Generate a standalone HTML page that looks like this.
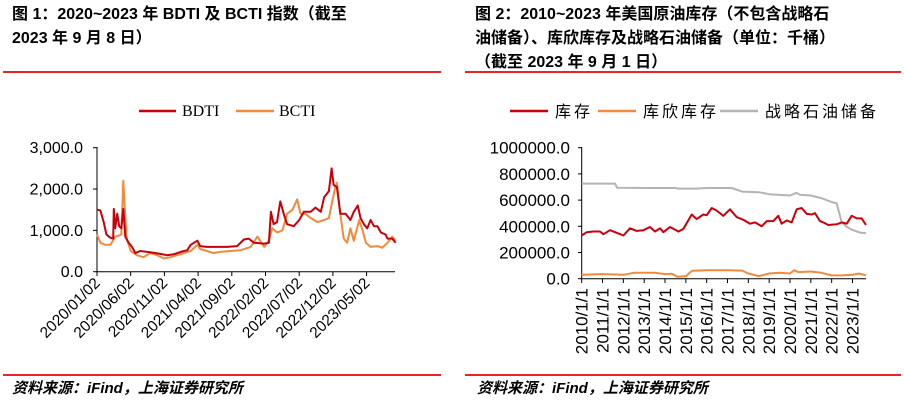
<!DOCTYPE html>
<html><head><meta charset="utf-8">
<style>
body{margin:0;width:904px;height:402px;background:#fff;overflow:hidden;font-family:"Liberation Sans","Noto Sans CJK SC",sans-serif;}
.t{position:absolute;font-weight:bold;font-size:16px;line-height:24px;color:#000;font-family:"Liberation Sans","Noto Sans CJK SC",sans-serif;}
.rl{position:absolute;height:2px;background:#e8262a;}
.src{position:absolute;top:377px;font-size:15px;font-style:italic;font-weight:bold;font-family:"Liberation Sans","Noto Sans CJK SC",sans-serif;}
svg{position:absolute;left:0;top:0}
</style></head><body>
<div class="t" style="left:12px;top:3px;width:430px">图 1：2020~2023 年 BDTI 及 BCTI 指数（截至<br>2023 年 9 月 8 日）</div>
<div class="t" style="left:475px;top:3px;width:430px">图 2：2010~2023 年美国原油库存（不包含战略石<br>油储备）、库欣库存及战略石油储备（单位：千桶）<br>（截至 2023 年 9 月 1 日）</div>
<div class="rl" style="left:3px;top:71px;width:438px"></div>
<div class="rl" style="left:465px;top:71px;width:436px"></div>
<div class="rl" style="left:3px;top:374px;width:438px"></div>
<div class="rl" style="left:465px;top:374px;width:436px"></div>
<div class="src" style="left:12px">资料来源：iFind，上海证券研究所</div>
<div class="src" style="left:477px">资料来源：iFind，上海证券研究所</div>
<svg id="s" width="904" height="402" xmlns="http://www.w3.org/2000/svg"></svg>
<script>
// Chart 1 data (x = months since 2020/01/02)
const c1Ticks=["2020/01/02","2020/06/02","2020/11/02","2021/04/02","2021/09/02","2022/02/02","2022/07/02","2022/12/02","2023/05/02"];
const c1YTicks=[0,1000,2000,3000];
const bdtiX=[0,0.5,1.0,1.4,2.0,2.4,2.5,2.7,3.0,3.3,3.6,3.9,4.2,4.7,5.2,5.7,6.4,7.9,9.4,10.4,11.4,12.4,13.4,13.9,14.9,15.3,16.3,17.8,19.3,20.8,21.8,22.5,23.3,24.8,25.5,25.8,26.2,26.7,27.2,27.7,28.2,29.2,30.0,30.7,31.7,32.4,33.2,33.7,34.4,34.8,35.1,35.6,36.1,36.9,37.6,38.1,38.7,39.1,39.6,40.1,40.6,41.1,41.6,42.1,42.8,43.1,43.8,44.3];
const bdtiY=[1500,1480,1200,900,820,800,1520,1050,1400,1100,1050,1520,850,700,600,450,500,470,430,400,420,480,520,650,750,620,600,600,600,620,780,800,700,680,700,1450,1150,1200,1700,1400,1150,1100,1250,1450,1450,1550,1450,1800,1950,2500,2100,2050,1400,1400,1250,1450,1600,1300,1150,1050,1250,1100,1100,950,900,800,800,700];
const bctiX=[0,0.5,1.2,2.0,2.7,3.2,3.6,3.9,4.1,4.4,5.0,5.9,6.9,7.9,8.9,9.9,10.9,11.9,12.9,13.9,14.9,15.3,16.3,17.3,18.3,19.8,21.3,22.8,23.8,24.8,25.5,26.0,26.7,27.5,28.2,29.0,29.7,30.2,30.9,31.7,32.7,33.7,34.4,34.9,35.3,35.6,36.1,36.6,37.1,37.6,38.1,38.9,39.4,39.9,40.6,41.6,42.3,43.1,43.8,44.3];
const bctiY=[900,700,650,650,850,870,900,2200,1600,800,500,400,350,450,400,320,350,400,450,500,650,550,500,450,480,500,520,600,850,600,750,1050,950,1000,1400,1500,1750,1400,1400,1300,1200,1250,1300,1700,2000,2150,1400,800,700,1050,750,1250,1000,700,600,620,580,700,850,750];
// Chart 2 data (x = years since 2010/1/1)
const c2Ticks=["2010/1/1","2011/1/1","2012/1/1","2013/1/1","2014/1/1","2015/1/1","2016/1/1","2017/1/1","2018/1/1","2019/1/1","2020/1/1","2021/1/1","2022/1/1","2023/1/1"];
const c2YTicks=[0,200000,400000,600000,800000,1000000];
const invX=[0,0.24,0.56,0.88,1.04,1.36,1.68,2.0,2.32,2.64,2.96,3.28,3.52,3.76,3.92,4.24,4.64,4.88,5.28,5.52,5.84,6.0,6.24,6.48,6.8,7.12,7.44,7.76,8.08,8.32,8.64,8.88,9.2,9.44,9.6,9.84,10.08,10.32,10.56,10.8,11.04,11.2,11.44,11.6,11.84,12.24,12.48,12.72,12.96,13.2,13.44,13.65];
const invY=[330000,355000,360000,360000,340000,370000,350000,330000,385000,365000,370000,395000,360000,385000,355000,395000,360000,380000,490000,455000,490000,485000,540000,520000,480000,530000,470000,450000,420000,430000,400000,440000,440000,480000,420000,445000,430000,530000,540000,495000,490000,500000,440000,430000,410000,415000,430000,420000,480000,460000,460000,410000];
const cushX=[0,1,2,2.5,3,3.5,4,4.3,4.6,5,5.3,6,7,7.7,8,8.5,9,9.5,10,10.2,10.4,11,11.5,12,12.5,13,13.3,13.65];
const cushY=[30000,35000,30000,45000,45000,45000,35000,38000,15000,20000,60000,65000,65000,62000,40000,20000,40000,45000,40000,65000,50000,55000,45000,25000,25000,30000,40000,25000];
const sprX=[0,1.6,1.7,3,4.5,4.6,5.5,6,7.2,7.7,8.5,9,10,10.3,10.5,11,11.5,12,12.24,12.48,12.72,13,13.4,13.65];
const sprY=[726000,726000,695000,692000,692000,688000,688000,692000,692000,665000,660000,645000,635000,655000,640000,635000,615000,585000,575000,430000,397000,372000,350000,348000];

const svg=document.getElementById('s');const NS="http://www.w3.org/2000/svg";
function el(tag,attrs,txt){const e=document.createElementNS(NS,tag);for(const k in attrs)e.setAttribute(k,attrs[k]);if(txt!==undefined)e.textContent=txt;svg.appendChild(e);return e;}
const F='"Liberation Sans","Noto Sans CJK SC",sans-serif';

// Chart 1 axes
const x1=m=>97+m*6.74, y1=v=>271.7-v/3000*124;
const a1=el('line',{x1:97,y1:147,x2:97,y2:272,stroke:'#000','stroke-width':1});

const b1=el('line',{x1:97,y1:271.7,x2:395,y2:271.7,stroke:'#000','stroke-width':1});

c1YTicks.forEach(v=>{
  el('line',{x1:93,y1:y1(v),x2:97,y2:y1(v),stroke:'#000'});
  const t=el('text',{x:83,y:y1(v)+5.5,'text-anchor':'end','font-size':16,'font-family':F},v.toLocaleString('en-US',{minimumFractionDigits:1}));
  
});
c1Ticks.forEach((s,i)=>{
  const x=x1(i*5);
  el('line',{x1:x,y1:271.7,x2:x,y2:276,stroke:'#000'});
  const t=el('text',{x:x+4,y:284,'text-anchor':'end','font-size':15.5,'font-family':F,transform:`rotate(-45 ${x+4} 284)`},s);
  
});
function line(xs,ys,fx,fy,col,name,w){
  const p=el('polyline',{points:xs.map((x,i)=>fx(x).toFixed(1)+','+fy(ys[i]).toFixed(1)).join(' '),fill:'none',stroke:col,'stroke-width':w||2,'stroke-linejoin':'round'});
  
}
line(bctiX,bctiY,x1,y1,'#f08a3c','bcti-line');
line(bdtiX,bdtiY,x1,y1,'#c8000b','bdti-line');
// legend 1
el('line',{x1:139,y1:111,x2:176,y2:111,stroke:'#c8000b','stroke-width':2.5});
let t=el('text',{x:182,y:116,'font-size':16,'font-family':'"Liberation Serif",serif'},'BDTI');

el('line',{x1:236,y1:111,x2:274,y2:111,stroke:'#f08a3c','stroke-width':2.5});
t=el('text',{x:279,y:116,'font-size':16,'font-family':'"Liberation Serif",serif'},'BCTI');


// Chart 2
const x2=y=>581.7+y*20.83, y2=v=>278.7-v/1e6*131;
const a2=el('line',{x1:581.7,y1:147,x2:581.7,y2:279,stroke:'#000'});

const b2=el('line',{x1:581.7,y1:278.7,x2:866,y2:278.7,stroke:'#000'});

c2YTicks.forEach(v=>{
  el('line',{x1:578,y1:y2(v),x2:582,y2:y2(v),stroke:'#000'});
  const t=el('text',{x:570,y:y2(v)+6,'text-anchor':'end','font-size':17,'font-family':F},v.toFixed(1));
  
});
c2Ticks.forEach((s,i)=>{
  const x=x2(i);
  el('line',{x1:x,y1:278.7,x2:x,y2:283,stroke:'#000'});
  const t=el('text',{x:x+6,y:288,'text-anchor':'end','font-size':17,'font-family':F,transform:`rotate(-90 ${x+6} 288)`},s);
  
});
line(sprX,sprY,x2,y2,'#b4b4b4','spr-line');
line(cushX,cushY,x2,y2,'#f08a3c','cushing-line');
line(invX,invY,x2,y2,'#c8000b','inventory-line');
el('line',{x1:510,y1:111,x2:548,y2:111,stroke:'#c8000b','stroke-width':2.5});
t=el('text',{x:555,y:117,'font-size':16,'font-family':F,'letter-spacing':3},'库存');

el('line',{x1:598,y1:111,x2:636,y2:111,stroke:'#f08a3c','stroke-width':2.5});
t=el('text',{x:643,y:117,'font-size':16,'font-family':F,'letter-spacing':3},'库欣库存');

el('line',{x1:720,y1:111,x2:758,y2:111,stroke:'#b4b4b4','stroke-width':2.5});
t=el('text',{x:765,y:117,'font-size':16,'font-family':F,'letter-spacing':3},'战略石油储备');

</script>
</body></html>
